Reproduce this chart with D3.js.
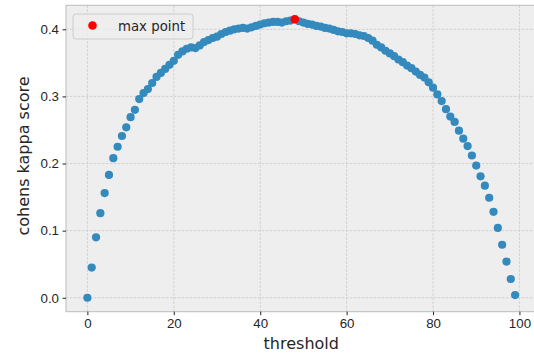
<!DOCTYPE html>
<html>
<head>
<meta charset="utf-8">
<script src="https://cdn.jsdelivr.net/npm/d3@7"></script>
<style>
  body { margin: 0; background: #fff; }
  svg { display: block; font-family: "DejaVu Sans", sans-serif; }
  .tick text { fill: #262626; font-size: 13.3px; }
  .tick line { stroke: #262626; }
  .domain { display: none; }
</style>
</head>
<body>
<div id="root"></div>
<script>
// thresholds tested and the kappa score
var thresholds = [0, 1, 2, 3, 4, 5, 6, 7, 8, 9, 10, 11, 12, 13, 14, 15, 16, 17, 18, 19,
  20, 21, 22, 23, 24, 25, 26, 27, 28, 29, 30, 31, 32, 33, 34, 35, 36, 37, 38, 39,
  40, 41, 42, 43, 44, 45, 46, 47, 48, 49, 50, 51, 52, 53, 54, 55, 56, 57, 58, 59,
  60, 61, 62, 63, 64, 65, 66, 67, 68, 69, 70, 71, 72, 73, 74, 75, 76, 77, 78, 79,
  80, 81, 82, 83, 84, 85, 86, 87, 88, 89, 90, 91, 92, 93, 94, 95, 96, 97, 98, 99];
var kappa = [0.000, 0.045, 0.090, 0.126, 0.156, 0.183, 0.208, 0.225, 0.241, 0.254,
  0.269, 0.280, 0.296, 0.305, 0.311, 0.320, 0.329, 0.335, 0.341, 0.347,
  0.353, 0.362, 0.367, 0.371, 0.373, 0.372, 0.376, 0.381, 0.384, 0.387,
  0.389, 0.393, 0.396, 0.398, 0.400, 0.401, 0.402, 0.401, 0.403, 0.405,
  0.407, 0.409, 0.410, 0.411, 0.411, 0.410, 0.412, 0.413, 0.415, 0.412,
  0.410, 0.408, 0.407, 0.405, 0.404, 0.402, 0.401, 0.399, 0.397, 0.396,
  0.394, 0.394, 0.393, 0.391, 0.390, 0.387, 0.383, 0.377, 0.373, 0.368,
  0.364, 0.360, 0.355, 0.351, 0.346, 0.342, 0.337, 0.332, 0.328, 0.321,
  0.313, 0.303, 0.293, 0.281, 0.270, 0.262, 0.249, 0.237, 0.226, 0.212,
  0.197, 0.181, 0.167, 0.149, 0.128, 0.104, 0.079, 0.054, 0.028, 0.004];
var maxThreshold = [48];
var maxKappa = [0.415];
var xTicks = [0, 20, 40, 60, 80, 100];
var yTicks = [0.0, 0.1, 0.2, 0.3, 0.4];

var w = 534, h = 356;
// plot area edges (right edge runs just past the picture, as in the original)
var pLeft = 66, pRight = 536.5, pTop = 5.3, pBottom = 311.7;

var points = thresholds.map(function(t, i) { return {x: t, y: kappa[i]}; });

var xScale = d3.scaleLinear()
  .domain([-4.95, 103.95])
  .range([pLeft, pRight]);

var yScale = d3.scaleLinear()
  .domain([-0.02075, 0.43575])
  .range([pBottom, pTop]);

var svg = d3.select('#root').append('svg')
  .attr('width', w)
  .attr('height', h);

// axes background
svg.append('rect')
  .attr('x', pLeft).attr('y', pTop)
  .attr('width', pRight - pLeft).attr('height', pBottom - pTop)
  .attr('fill', '#eeeeee');

// grid
var grid = svg.append('g')
  .attr('stroke', '#c8c8c8')
  .attr('stroke-width', 0.8)
  .attr('stroke-dasharray', '2.5,1.5');

grid.selectAll('line.vx')
  .data(xTicks).enter().append('line')
  .attr('x1', function(d) { return xScale(d); })
  .attr('x2', function(d) { return xScale(d); })
  .attr('y1', pTop).attr('y2', pBottom);

grid.selectAll('line.hy')
  .data(yTicks).enter().append('line')
  .attr('y1', function(d) { return yScale(d); })
  .attr('y2', function(d) { return yScale(d); })
  .attr('x1', pLeft).attr('x2', pRight);

// frame
svg.append('rect')
  .attr('x', pLeft).attr('y', pTop)
  .attr('width', pRight - pLeft).attr('height', pBottom - pTop)
  .attr('fill', 'none')
  .attr('stroke', '#bcbcbc')
  .attr('stroke-width', 1);

// axes
svg.append('g')
  .attr('transform', 'translate(0,' + pBottom + ')')
  .call(d3.axisBottom(xScale).tickValues(xTicks).tickSize(3.5).tickPadding(3.5));

svg.append('g')
  .attr('transform', 'translate(' + pLeft + ',0)')
  .call(d3.axisLeft(yScale).tickValues(yTicks).tickFormat(d3.format('.1f')).tickSize(3.5).tickPadding(3.5));

// scatter
svg.append('g')
  .selectAll('circle')
  .data(points).enter().append('circle')
  .attr('cx', function(d) { return xScale(d.x); })
  .attr('cy', function(d) { return yScale(d.y); })
  .attr('r', 4.1)
  .attr('fill', '#348abd');

// max point
svg.append('g')
  .selectAll('circle')
  .data(maxThreshold).enter().append('circle')
  .attr('cx', function(d) { return xScale(d); })
  .attr('cy', function(d, i) { return yScale(maxKappa[i]); })
  .attr('r', 4.3)
  .attr('fill', '#ff0000');

// axis labels
svg.append('text')
  .attr('x', (pLeft + pRight) / 2)
  .attr('y', 349)
  .attr('text-anchor', 'middle')
  .attr('font-size', '16px')
  .attr('fill', '#262626')
  .text('threshold');

svg.append('text')
  .attr('transform', 'translate(28.5,156) rotate(-90)')
  .attr('text-anchor', 'middle')
  .attr('font-size', '16px')
  .attr('fill', '#262626')
  .text('cohens kappa score');

// legend
var legend = svg.append('g')
  .attr('transform', 'translate(73,14)');

legend.append('rect')
  .attr('width', 120)
  .attr('height', 25)
  .attr('rx', 3).attr('ry', 3)
  .attr('fill', '#eeeeee')
  .attr('fill-opacity', 0.8)
  .attr('stroke', '#cccccc')
  .attr('stroke-width', 1);

legend.append('circle')
  .attr('cx', 19.5)
  .attr('cy', 11.5)
  .attr('r', 4.3)
  .attr('fill', '#ff0000');

legend.append('text')
  .attr('x', 45)
  .attr('y', 16.5)
  .attr('font-size', '13.3px')
  .attr('fill', '#262626')
  .text('max point');
</script>
</body>
</html>
